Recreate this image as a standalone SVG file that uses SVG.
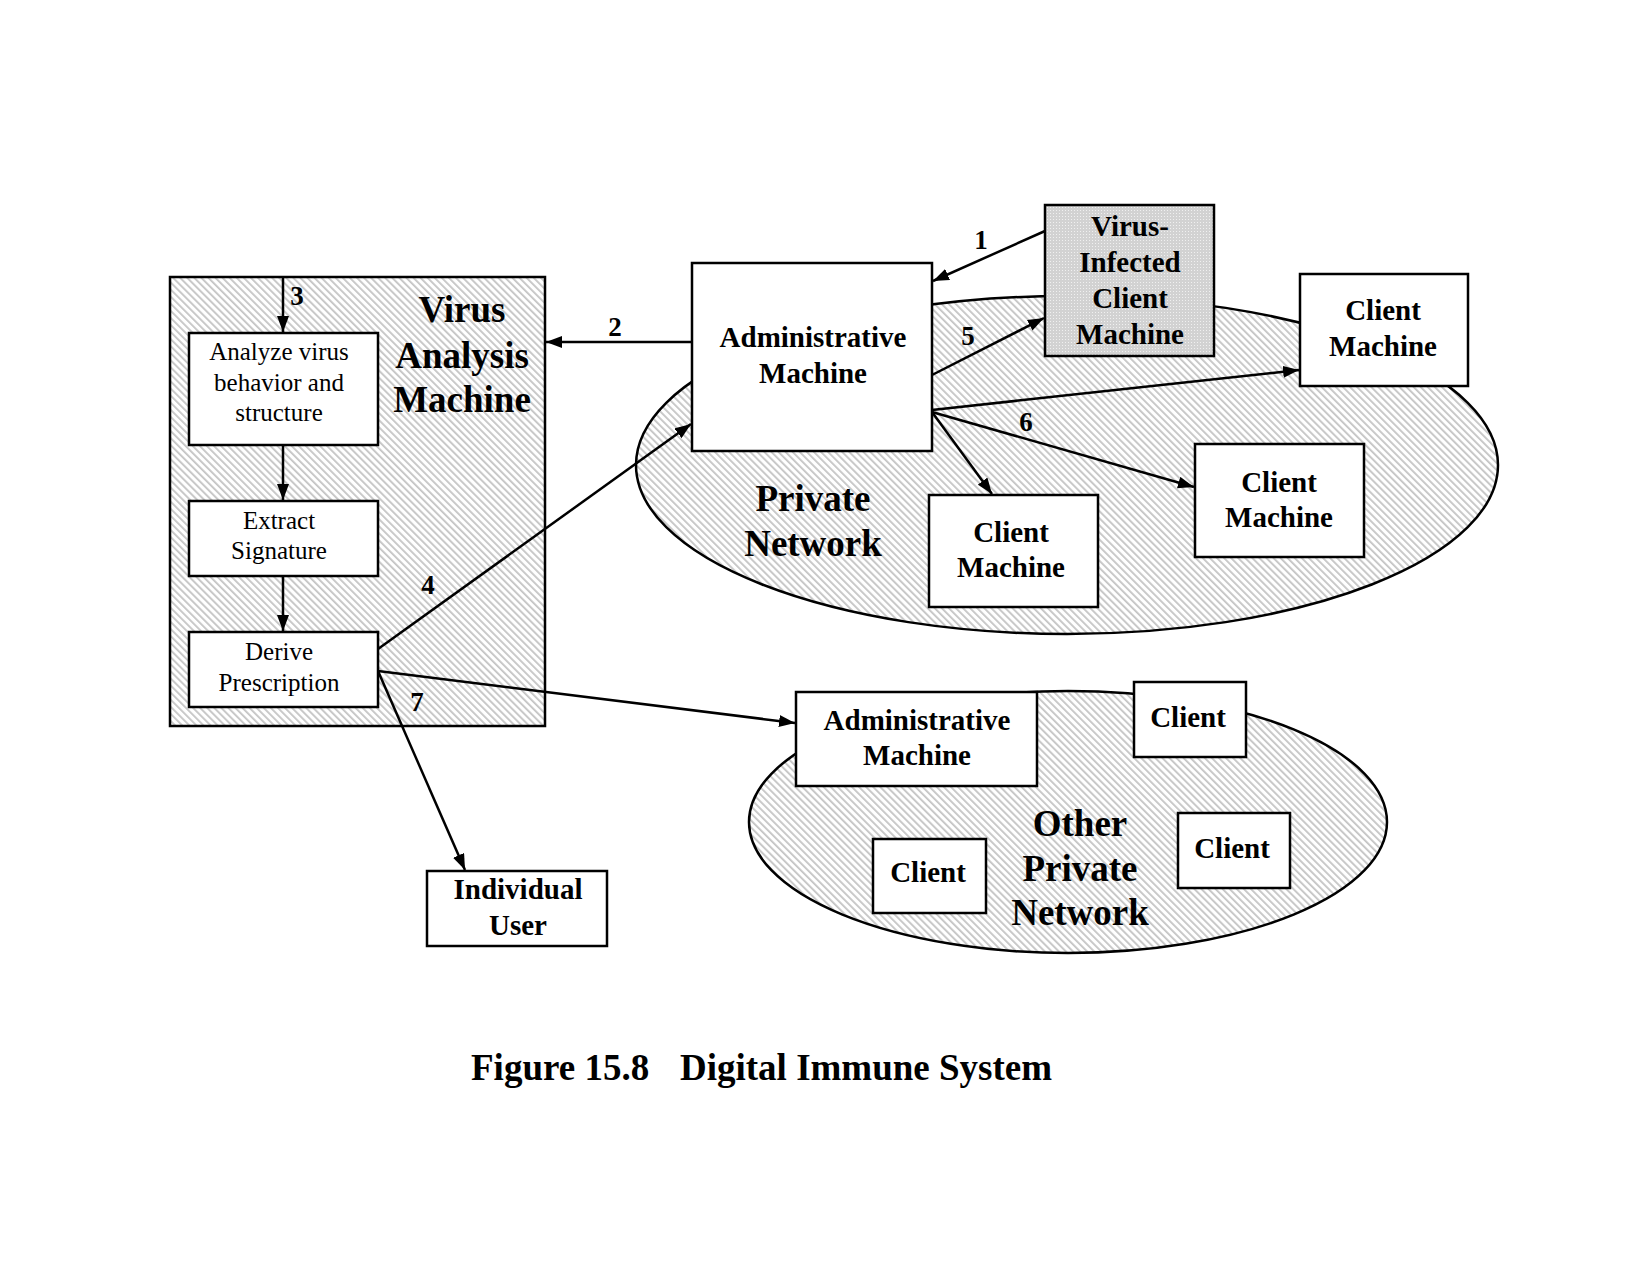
<svg xmlns="http://www.w3.org/2000/svg" width="1650" height="1275" viewBox="0 0 1650 1275">
<style>
.box{fill:#fff;stroke:#000;stroke-width:2.5}
.hatch{fill:url(#hatch);stroke:#000;stroke-width:2.5}
.b{font-family:"Liberation Serif","Times New Roman",serif;font-weight:bold;text-anchor:middle;fill:#000}
.r{font-family:"Liberation Serif","Times New Roman",serif;text-anchor:middle;fill:#000}
.t29{font-size:29px}
.t37{font-size:37px}
.t24{font-size:25px}
.num{font-family:"Liberation Serif","Times New Roman",serif;font-weight:bold;font-size:27px;text-anchor:middle}
.c{stroke:#000;stroke-width:2.5;fill:none;marker-end:url(#arr)}
</style>
<defs>
<pattern id="hatch" width="5" height="5" patternUnits="userSpaceOnUse" patternTransform="rotate(-45)">
<rect width="5" height="5" fill="#fff"/>
<rect width="1.8" height="5" fill="#c4c4c4"/>
</pattern>
<pattern id="dots" width="3" height="3" patternUnits="userSpaceOnUse">
<rect width="3" height="3" fill="#d2d2d2"/>
<rect width="1" height="1" fill="#f0f0f0"/>
</pattern>
<marker id="arr" viewBox="0 0 16 12" refX="16" refY="6" markerWidth="16" markerHeight="12" markerUnits="userSpaceOnUse" orient="auto">
<path d="M0,0 L16,6 L0,12 z" fill="#000"/>
</marker>
</defs>
<rect width="1650" height="1275" fill="#fff"/>

<g id="private-network">
<ellipse class="hatch" cx="1067" cy="465" rx="431" ry="169"/>
<text class="b t37" x="813" y="511">Private</text>
<text class="b t37" x="813" y="556">Network</text>
</g>
<g id="other-private-network">
<ellipse class="hatch" cx="1068" cy="822" rx="319" ry="131"/>
<text class="b t37" x="1080" y="836">Other</text>
<text class="b t37" x="1080" y="881">Private</text>
<text class="b t37" x="1080" y="925">Network</text>
</g>

<g id="virus-analysis-machine">
<rect class="hatch" x="170" y="277" width="375" height="449"/>
<text class="b t37" x="462" y="322">Virus</text>
<text class="b t37" x="462" y="368">Analysis</text>
<text class="b t37" x="462" y="412">Machine</text>
</g>
<g id="analyze">
<rect class="box" x="189" y="333" width="189" height="112"/>
<text class="r t24" x="279" y="360">Analyze virus</text>
<text class="r t24" x="279" y="391">behavior and</text>
<text class="r t24" x="279" y="421">structure</text>
</g>
<g id="extract">
<rect class="box" x="189" y="501" width="189" height="75"/>
<text class="r t24" x="279" y="529">Extract</text>
<text class="r t24" x="279" y="559">Signature</text>
</g>
<g id="derive">
<rect class="box" x="189" y="632" width="189" height="75"/>
<text class="r t24" x="279" y="660">Derive</text>
<text class="r t24" x="279" y="691">Prescription</text>
</g>

<g id="admin-machine">
<rect class="box" x="692" y="263" width="240" height="188"/>
<text class="b t29" x="813" y="347">Administrative</text>
<text class="b t29" x="813" y="383">Machine</text>
</g>
<g id="virus-infected-client">
<rect x="1045" y="205" width="169" height="151" fill="url(#dots)" stroke="#000" stroke-width="2.5"/>
<text class="b t29" x="1130" y="236">Virus-</text>
<text class="b t29" x="1130" y="272">Infected</text>
<text class="b t29" x="1130" y="308">Client</text>
<text class="b t29" x="1130" y="344">Machine</text>
</g>
<g id="client-top-right">
<rect class="box" x="1300" y="274" width="168" height="112"/>
<text class="b t29" x="1383" y="320">Client</text>
<text class="b t29" x="1383" y="356">Machine</text>
</g>
<g id="client-mid-right">
<rect class="box" x="1195" y="444" width="169" height="113"/>
<text class="b t29" x="1279" y="492">Client</text>
<text class="b t29" x="1279" y="527">Machine</text>
</g>
<g id="client-bottom">
<rect class="box" x="929" y="495" width="169" height="112"/>
<text class="b t29" x="1011" y="542">Client</text>
<text class="b t29" x="1011" y="577">Machine</text>
</g>

<g id="other-admin">
<rect class="box" x="796" y="692" width="241" height="94"/>
<text class="b t29" x="917" y="730">Administrative</text>
<text class="b t29" x="917" y="765">Machine</text>
</g>
<g id="client-o1">
<rect class="box" x="1134" y="682" width="112" height="75"/>
<text class="b t29" x="1188" y="727">Client</text>
</g>
<g id="client-o2">
<rect class="box" x="1178" y="813" width="112" height="75"/>
<text class="b t29" x="1232" y="858">Client</text>
</g>
<g id="client-o3">
<rect class="box" x="873" y="839" width="113" height="74"/>
<text class="b t29" x="928" y="882">Client</text>
</g>

<g id="individual-user">
<rect class="box" x="427" y="871" width="180" height="75"/>
<text class="b t29" x="518" y="899">Individual</text>
<text class="b t29" x="518" y="935">User</text>
</g>

<g id="connectors">
<line class="c" x1="1045" y1="231" x2="933" y2="281"/>
<line class="c" x1="692" y1="342" x2="546" y2="342"/>
<line class="c" x1="283" y1="277" x2="283" y2="332"/>
<line class="c" x1="283" y1="445" x2="283" y2="500"/>
<line class="c" x1="283" y1="576" x2="283" y2="631"/>
<line class="c" x1="378" y1="649" x2="691" y2="424"/>
<line class="c" x1="932" y1="375" x2="1044" y2="318"/>
<line class="c" x1="932" y1="410" x2="1299" y2="370"/>
<line class="c" x1="932" y1="412" x2="1194" y2="487"/>
<line class="c" x1="932" y1="412" x2="992" y2="494"/>
<line class="c" x1="378" y1="671" x2="795" y2="723"/>
<line class="c" x1="378" y1="671" x2="465" y2="870"/>
<text class="num" x="981" y="249">1</text>
<text class="num" x="615" y="336">2</text>
<text class="num" x="297" y="305">3</text>
<text class="num" x="428" y="594">4</text>
<text class="num" x="968" y="345">5</text>
<text class="num" x="1026" y="431">6</text>
<text class="num" x="417" y="711">7</text>
</g>

<g id="caption">
<text class="b t37" x="471" y="1080" style="text-anchor:start">Figure 15.8</text>
<text class="b t37" x="680" y="1080" style="text-anchor:start">Digital Immune System</text>
</g>
</svg>
